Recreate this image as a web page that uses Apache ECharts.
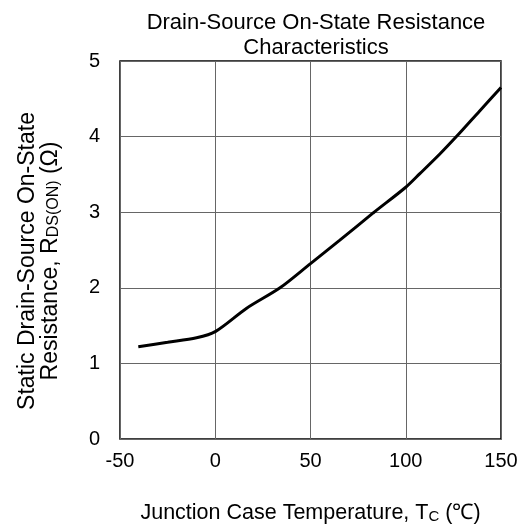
<!DOCTYPE html>
<html><head><meta charset="utf-8">
<script src="https://cdn.jsdelivr.net/npm/echarts@6/dist/echarts.min.js"></script>
<style>html,body{margin:0;padding:0;background:#fff}#c{width:527px;height:529px}</style>
</head><body><div id="c"></div>
<script>
const temperature = [-40.4, -25, -9.8, 0, 16.5, 34, 50, 65.4, 82.9, 100, 107.4, 117.9, 126.6, 138.8, 150];
const resistance  = [1.22, 1.28, 1.34, 1.42, 1.73, 2.0, 2.32, 2.63, 2.99, 3.33, 3.51, 3.77, 4.0, 4.34, 4.65];
const xTicks = [-50, 0, 50, 100, 150];
const yTicks = [0, 1, 2, 3, 4, 5];

const F = '"Liberation Sans", Arial, sans-serif';
const chart = echarts.init(document.getElementById('c'));
chart.setOption({
  animation: false,
  backgroundColor: '#fff',
  title: {
    text: 'Drain-Source On-State Resistance\nCharacteristics',
    left: 311, top: 5, textAlign: 'center',
    textStyle: {fontFamily: F, fontSize: 22, fontWeight: 'normal', color: '#000', lineHeight: 25}
  },
  grid: {left: 120, right: 26, top: 61, bottom: 88, show: true, borderColor: '#000', borderWidth: 1.5},
  xAxis: {
    type: 'value', min: xTicks[0], max: xTicks[xTicks.length-1], interval: 50,
    axisLine: {show: false}, axisTick: {show: false},
    splitLine: {show: true, lineStyle: {color: '#666', width: 1}},
    axisLabel: {fontFamily: F, fontSize: 20, color: '#000', margin: 12, showMinLabel: true, showMaxLabel: true},
    name: '{n|Junction Case Temperature, T}{s|C}{n| (℃)}',
    nameLocation: 'middle', nameGap: 63,
    nameTextStyle: {rich: {
      n: {fontFamily: F, fontSize: 21.5, color: '#000'},
      s: {fontFamily: F, fontSize: 15, color: '#000', verticalAlign: 'bottom', padding: [7,0,0,0]}
    }}
  },
  yAxis: {
    type: 'value', min: yTicks[0], max: yTicks[yTicks.length-1], interval: 1,
    axisLine: {show: false}, axisTick: {show: false},
    splitLine: {show: true, lineStyle: {color: '#666', width: 1}},
    axisLabel: {fontFamily: F, fontSize: 20, color: '#000', margin: 20},
    name: '{n|Static Drain-Source On-State}\n{n|Resistance, R}{s|DS(ON)}{n| (Ω)}',
    nameLocation: 'middle', nameGap: 58, nameRotate: 90,
    nameTextStyle: {align: 'center', lineHeight: 23, padding: [0, 22, 0, 0], rich: {
      n: {fontFamily: F, fontSize: 23, color: '#000', lineHeight: 23},
      s: {fontFamily: F, fontSize: 16, color: '#000', lineHeight: 23, padding: [7,0,0,0]}
    }}
  },
  series: [{
    type: 'line', data: temperature.map((t, i) => [t, resistance[i]]),
    smooth: 0.3, symbol: 'none',
    lineStyle: {color: '#000', width: 3}
  }]
});
</script></body></html>
